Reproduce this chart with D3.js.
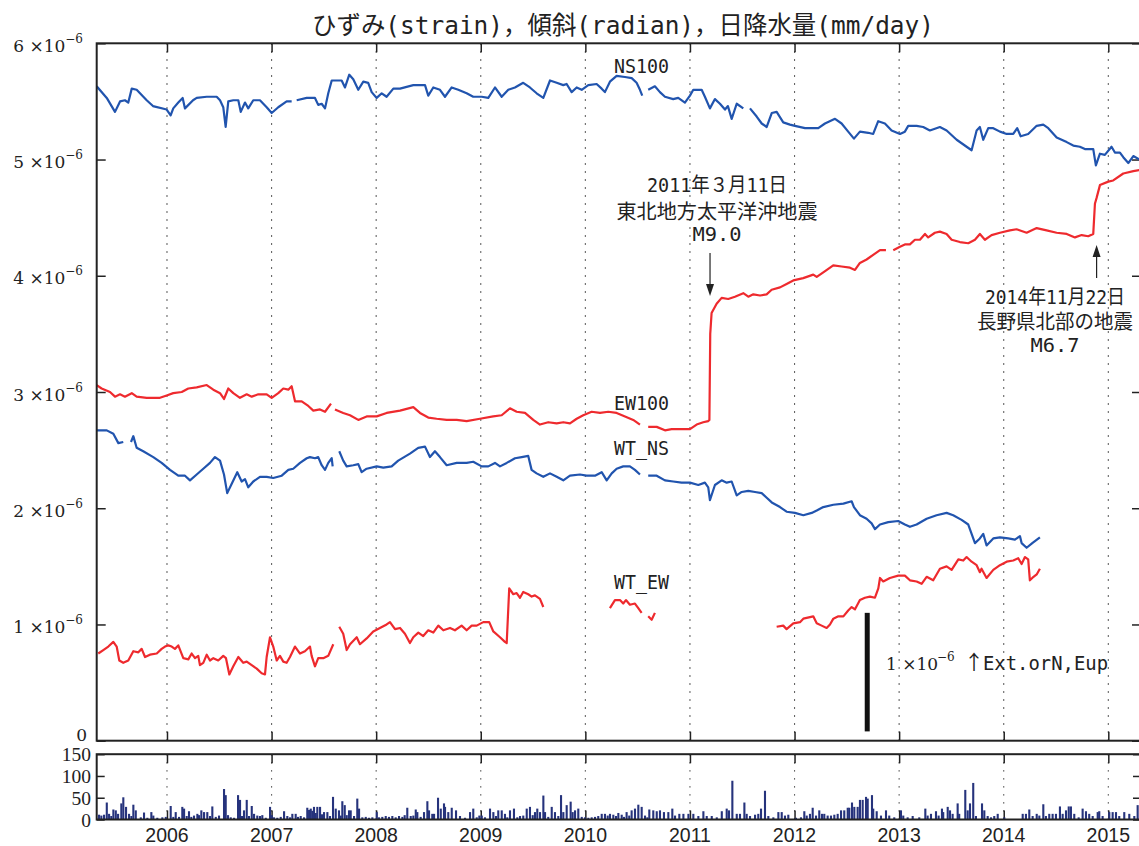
<!DOCTYPE html>
<html>
<head>
<meta charset="utf-8">
<script src="https://cdn.jsdelivr.net/npm/d3@7"></script>
<style>
  body { margin: 0; background: #fff; }
</style>
</head>
<body>
<div id="chart"></div>
<script>
// x ticks (years), y ticks (strain in 1e-6, rain in mm/day)
const years = [2006, 2007, 2008, 2009, 2010, 2011, 2012, 2013, 2014, 2015]
const strainTicks = [0, 1, 2, 3, 4, 5, 6]
const rainTicks = [0, 50, 100, 150]

// [decimal year, strain x1e-6], null = missing data
const ns100 = [[2005.328,5.63],[2005.424,5.53],[2005.503,5.41],[2005.551,5.50],[2005.598,5.51],[2005.630,5.49],[2005.663,5.61],[2005.710,5.60],[2005.806,5.51],[2005.866,5.46],[2005.997,5.43],[2006.035,5.38],[2006.060,5.44],[2006.108,5.49],[2006.150,5.53],[2006.172,5.44],[2006.249,5.51],[2006.284,5.53],[2006.380,5.54],[2006.475,5.54],[2006.507,5.51],[2006.538,5.45],[2006.561,5.28],[2006.586,5.50],[2006.634,5.51],[2006.682,5.51],[2006.705,5.41],[2006.746,5.49],[2006.777,5.44],[2006.825,5.51],[2006.889,5.51],[2006.953,5.45],[2007.001,5.40],[2007.064,5.45],[2007.144,5.50],[2007.192,5.50],[2007.216,null],[2007.240,5.51],[2007.336,5.53],[2007.415,5.53],[2007.446,5.47],[2007.479,5.48],[2007.511,5.44],[2007.542,5.57],[2007.575,5.68],[2007.622,5.68],[2007.670,5.68],[2007.702,5.62],[2007.743,5.73],[2007.781,5.69],[2007.829,5.60],[2007.877,5.67],[2007.924,5.66],[2007.957,5.58],[2008.005,5.53],[2008.053,5.57],[2008.100,5.54],[2008.164,5.61],[2008.228,5.61],[2008.355,5.64],[2008.400,5.64],[2008.467,5.64],[2008.498,5.55],[2008.546,5.62],[2008.610,5.60],[2008.658,5.54],[2008.722,5.62],[2008.785,5.60],[2008.865,5.57],[2008.928,5.54],[2009.009,5.54],[2009.072,5.53],[2009.136,5.62],[2009.200,5.54],[2009.263,5.60],[2009.327,5.62],[2009.406,5.66],[2009.470,5.62],[2009.534,5.57],[2009.598,5.53],[2009.662,5.68],[2009.726,5.66],[2009.789,5.64],[2009.821,5.65],[2009.869,5.58],[2009.917,5.62],[2009.965,5.60],[2010.028,5.64],[2010.108,5.65],[2010.156,5.61],[2010.187,5.58],[2010.235,5.67],[2010.299,5.72],[2010.379,5.71],[2010.443,5.70],[2010.490,5.66],[2010.522,5.60],[2010.544,5.55],[2010.570,null],[2010.601,5.60],[2010.665,5.63],[2010.713,5.58],[2010.761,5.54],[2010.840,5.52],[2010.888,5.53],[2010.952,5.49],[2011.000,5.55],[2011.032,5.60],[2011.112,5.60],[2011.143,5.54],[2011.191,5.44],[2011.239,5.52],[2011.287,5.48],[2011.335,5.43],[2011.363,5.46],[2011.399,5.35],[2011.447,5.48],[2011.510,5.44],[2011.540,null],[2011.574,5.44],[2011.638,5.37],[2011.686,5.31],[2011.734,5.28],[2011.782,5.40],[2011.829,5.41],[2011.892,5.32],[2011.956,5.30],[2012.004,5.29],[2012.100,5.27],[2012.163,5.27],[2012.227,5.27],[2012.291,5.31],[2012.387,5.35],[2012.450,5.31],[2012.513,5.24],[2012.568,5.18],[2012.625,5.24],[2012.705,5.23],[2012.752,5.22],[2012.800,5.33],[2012.864,5.31],[2012.928,5.25],[2013.008,5.22],[2013.055,5.24],[2013.087,5.29],[2013.167,5.29],[2013.230,5.28],[2013.294,5.25],[2013.390,5.28],[2013.454,5.25],[2013.550,5.17],[2013.645,5.11],[2013.693,5.08],[2013.741,5.25],[2013.772,5.28],[2013.804,5.17],[2013.852,5.27],[2013.900,5.27],[2013.964,5.24],[2014.028,5.22],[2014.091,5.22],[2014.129,5.27],[2014.162,5.20],[2014.234,5.22],[2014.315,5.29],[2014.378,5.30],[2014.426,5.27],[2014.506,5.19],[2014.602,5.15],[2014.665,5.12],[2014.728,5.11],[2014.776,5.09],[2014.856,5.09],[2014.881,4.95],[2014.920,5.05],[2014.967,5.04],[2015.031,5.11],[2015.063,5.06],[2015.111,5.06],[2015.143,5.02],[2015.191,4.97],[2015.239,5.03],[2015.300,5.00]]

const ew100 = [[2005.328,3.06],[2005.375,3.03],[2005.455,3.00],[2005.503,2.96],[2005.551,2.98],[2005.598,2.96],[2005.663,2.99],[2005.710,2.96],[2005.806,2.95],[2005.869,2.95],[2005.933,2.95],[2005.997,2.97],[2006.060,2.99],[2006.141,3.00],[2006.204,3.03],[2006.284,3.04],[2006.380,3.06],[2006.443,3.02],[2006.507,2.99],[2006.545,2.94],[2006.586,3.03],[2006.634,2.99],[2006.698,2.95],[2006.762,2.98],[2006.810,2.96],[2006.873,2.98],[2006.953,2.98],[2007.001,2.95],[2007.064,2.99],[2007.112,3.03],[2007.160,3.02],[2007.192,3.05],[2007.224,2.92],[2007.288,2.92],[2007.351,2.88],[2007.399,2.84],[2007.463,2.85],[2007.511,2.83],[2007.568,2.90],[2007.587,null],[2007.606,2.85],[2007.685,2.82],[2007.750,2.80],[2007.829,2.76],[2007.909,2.79],[2008.005,2.79],[2008.100,2.82],[2008.228,2.84],[2008.355,2.87],[2008.419,2.82],[2008.498,2.78],[2008.578,2.77],[2008.674,2.76],[2008.770,2.76],[2008.865,2.75],[2008.992,2.77],[2009.119,2.79],[2009.200,2.80],[2009.279,2.86],[2009.343,2.83],[2009.423,2.82],[2009.502,2.76],[2009.566,2.72],[2009.645,2.74],[2009.726,2.73],[2009.789,2.74],[2009.853,2.73],[2009.917,2.77],[2009.980,2.80],[2010.060,2.83],[2010.140,2.82],[2010.219,2.83],[2010.299,2.82],[2010.379,2.79],[2010.458,2.76],[2010.522,2.72],[2010.560,null],[2010.601,2.70],[2010.682,2.70],[2010.761,2.67],[2010.825,2.68],[2010.904,2.68],[2011.000,2.68],[2011.064,2.72],[2011.127,2.74],[2011.175,2.75],[2011.186,2.76],[2011.194,3.50],[2011.207,3.68],[2011.255,3.76],[2011.303,3.81],[2011.366,3.80],[2011.430,3.82],[2011.510,3.85],[2011.558,3.82],[2011.606,3.84],[2011.670,3.83],[2011.733,3.84],[2011.781,3.88],[2011.861,3.90],[2011.924,3.93],[2011.988,3.96],[2012.083,3.98],[2012.179,4.01],[2012.212,3.99],[2012.275,4.03],[2012.370,4.09],[2012.450,4.08],[2012.530,4.07],[2012.578,4.05],[2012.625,4.11],[2012.689,4.14],[2012.752,4.18],[2012.817,4.22],[2012.874,4.22],[2012.910,null],[2012.944,4.22],[2013.008,4.25],[2013.055,4.27],[2013.103,4.27],[2013.151,4.31],[2013.199,4.31],[2013.247,4.36],[2013.278,4.33],[2013.342,4.37],[2013.390,4.38],[2013.454,4.36],[2013.502,4.31],[2013.581,4.29],[2013.661,4.28],[2013.725,4.31],[2013.772,4.36],[2013.820,4.31],[2013.884,4.35],[2013.964,4.37],[2014.059,4.39],[2014.123,4.40],[2014.219,4.37],[2014.315,4.41],[2014.410,4.39],[2014.506,4.37],[2014.602,4.36],[2014.681,4.33],[2014.745,4.35],[2014.808,4.34],[2014.856,4.36],[2014.872,4.62],[2014.888,4.67],[2014.920,4.78],[2015.000,4.81],[2015.047,4.82],[2015.143,4.88],[2015.239,4.90],[2015.300,4.91]]

const wtNs = [[2005.328,2.67],[2005.424,2.67],[2005.487,2.64],[2005.535,2.56],[2005.582,2.57],[2005.620,null],[2005.656,2.57],[2005.678,2.62],[2005.710,2.52],[2005.773,2.49],[2005.869,2.44],[2005.949,2.39],[2006.029,2.33],[2006.108,2.28],[2006.172,2.28],[2006.220,2.24],[2006.284,2.29],[2006.347,2.34],[2006.411,2.39],[2006.459,2.44],[2006.507,2.41],[2006.545,2.29],[2006.576,2.13],[2006.619,2.21],[2006.672,2.31],[2006.714,2.23],[2006.746,2.25],[2006.777,2.18],[2006.825,2.23],[2006.889,2.27],[2006.953,2.27],[2007.016,2.26],[2007.097,2.28],[2007.160,2.33],[2007.207,2.34],[2007.272,2.39],[2007.336,2.43],[2007.367,2.44],[2007.415,2.43],[2007.446,2.44],[2007.479,2.37],[2007.511,2.33],[2007.542,2.39],[2007.575,2.43],[2007.584,2.36],[2007.610,null],[2007.647,2.49],[2007.685,2.41],[2007.718,2.36],[2007.781,2.37],[2007.829,2.38],[2007.861,2.31],[2007.909,2.34],[2008.005,2.36],[2008.068,2.35],[2008.148,2.36],[2008.211,2.41],[2008.323,2.47],[2008.402,2.52],[2008.467,2.53],[2008.514,2.44],[2008.562,2.49],[2008.610,2.44],[2008.674,2.37],[2008.770,2.39],[2008.865,2.39],[2008.928,2.40],[2009.009,2.36],[2009.072,2.36],[2009.136,2.39],[2009.184,2.36],[2009.248,2.39],[2009.327,2.43],[2009.391,2.44],[2009.454,2.45],[2009.486,2.33],[2009.534,2.30],[2009.598,2.27],[2009.662,2.30],[2009.726,2.27],[2009.789,2.24],[2009.853,2.28],[2009.948,2.29],[2010.012,2.28],[2010.092,2.28],[2010.156,2.31],[2010.204,2.24],[2010.252,2.30],[2010.299,2.34],[2010.362,2.36],[2010.426,2.36],[2010.474,2.33],[2010.522,2.29],[2010.560,null],[2010.601,2.28],[2010.682,2.28],[2010.761,2.24],[2010.840,2.23],[2010.920,2.22],[2011.000,2.22],[2011.080,2.20],[2011.143,2.22],[2011.175,2.18],[2011.191,2.07],[2011.239,2.20],[2011.303,2.24],[2011.351,2.22],[2011.399,2.23],[2011.447,2.11],[2011.495,2.14],[2011.558,2.15],[2011.622,2.14],[2011.686,2.13],[2011.734,2.09],[2011.782,2.05],[2011.861,2.01],[2011.924,1.97],[2012.004,1.96],[2012.084,1.94],[2012.164,1.96],[2012.212,1.98],[2012.275,2.01],[2012.371,2.03],[2012.467,2.04],[2012.546,2.06],[2012.568,2.01],[2012.625,1.94],[2012.689,1.91],[2012.737,1.87],[2012.769,1.82],[2012.817,1.86],[2012.896,1.88],[2012.991,1.89],[2013.055,1.86],[2013.103,1.84],[2013.167,1.86],[2013.263,1.91],[2013.358,1.94],[2013.454,1.96],[2013.517,1.94],[2013.597,1.90],[2013.661,1.86],[2013.693,1.78],[2013.725,1.70],[2013.772,1.74],[2013.804,1.78],[2013.836,1.68],[2013.900,1.74],[2013.964,1.75],[2014.043,1.74],[2014.107,1.73],[2014.155,1.76],[2014.171,1.70],[2014.219,1.66],[2014.273,1.70],[2014.346,1.75]]

const wtEw = [[2005.343,0.75],[2005.391,0.78],[2005.439,0.81],[2005.487,0.85],[2005.519,0.81],[2005.544,0.69],[2005.582,0.67],[2005.630,0.69],[2005.678,0.77],[2005.726,0.76],[2005.758,0.79],[2005.790,0.72],[2005.837,0.74],[2005.902,0.75],[2005.949,0.79],[2005.981,0.81],[2006.012,0.82],[2006.045,0.81],[2006.076,0.79],[2006.108,0.82],[2006.156,0.71],[2006.204,0.70],[2006.236,0.75],[2006.268,0.71],[2006.299,0.73],[2006.315,0.65],[2006.347,0.67],[2006.380,0.74],[2006.411,0.69],[2006.443,0.71],[2006.490,0.69],[2006.538,0.73],[2006.564,0.71],[2006.596,0.57],[2006.634,0.64],[2006.682,0.72],[2006.729,0.67],[2006.762,0.68],[2006.810,0.65],[2006.858,0.62],[2006.905,0.58],[2006.937,0.57],[2006.953,0.72],[2006.985,0.89],[2007.016,0.81],[2007.049,0.69],[2007.080,0.73],[2007.112,0.68],[2007.144,0.67],[2007.176,0.72],[2007.224,0.81],[2007.272,0.75],[2007.319,0.77],[2007.367,0.81],[2007.383,0.73],[2007.415,0.64],[2007.446,0.71],[2007.494,0.71],[2007.542,0.73],[2007.590,0.83],[2007.620,null],[2007.647,0.98],[2007.685,0.92],[2007.718,0.78],[2007.750,0.83],[2007.814,0.89],[2007.845,0.83],[2007.909,0.88],[2007.972,0.94],[2008.036,0.97],[2008.100,1.00],[2008.132,1.02],[2008.180,0.96],[2008.228,0.97],[2008.275,0.92],[2008.323,0.84],[2008.355,0.89],[2008.403,0.93],[2008.450,0.90],[2008.498,0.95],[2008.546,0.93],[2008.594,0.99],[2008.642,0.95],[2008.706,0.97],[2008.753,0.95],[2008.817,0.99],[2008.865,0.95],[2008.913,0.99],[2008.961,0.99],[2009.024,1.02],[2009.081,1.02],[2009.120,0.94],[2009.184,0.89],[2009.231,0.85],[2009.248,0.84],[2009.272,1.31],[2009.311,1.26],[2009.343,1.27],[2009.375,1.23],[2009.406,1.28],[2009.454,1.26],[2009.487,1.24],[2009.518,1.25],[2009.566,1.22],[2009.598,1.15],[2009.900,null],[2010.235,1.14],[2010.283,1.21],[2010.331,1.21],[2010.362,1.18],[2010.388,1.21],[2010.426,1.17],[2010.474,1.18],[2010.506,1.14],[2010.538,1.10],[2010.570,null],[2010.601,1.07],[2010.634,1.04],[2010.665,1.10],[2011.200,null],[2011.829,0.98],[2011.892,0.99],[2011.924,0.96],[2011.988,1.01],[2012.052,1.02],[2012.084,1.05],[2012.179,1.07],[2012.212,1.01],[2012.259,0.99],[2012.307,0.97],[2012.339,1.00],[2012.371,1.05],[2012.419,1.07],[2012.467,1.07],[2012.513,1.12],[2012.546,1.15],[2012.578,1.13],[2012.625,1.21],[2012.673,1.23],[2012.721,1.24],[2012.769,1.23],[2012.801,1.31],[2012.817,1.40],[2012.848,1.37],[2012.912,1.40],[2012.991,1.42],[2013.055,1.42],[2013.103,1.38],[2013.167,1.37],[2013.215,1.35],[2013.263,1.41],[2013.326,1.38],[2013.390,1.48],[2013.454,1.50],[2013.502,1.47],[2013.566,1.56],[2013.613,1.55],[2013.645,1.58],[2013.693,1.54],[2013.741,1.51],[2013.772,1.45],[2013.788,1.48],[2013.836,1.40],[2013.900,1.47],[2013.964,1.51],[2014.028,1.54],[2014.091,1.55],[2014.139,1.57],[2014.171,1.52],[2014.203,1.58],[2014.234,1.56],[2014.250,1.38],[2014.273,1.40],[2014.315,1.43],[2014.346,1.48]]

// [decimal year, daily precipitation mm]
const rain = [[2005.350,11],[2005.372,9],[2005.398,11],[2005.424,39],[2005.446,13],[2005.467,8],[2005.487,23],[2005.510,21],[2005.532,13],[2005.563,37],[2005.582,51],[2005.608,29],[2005.637,13],[2005.659,8],[2005.678,34],[2005.701,21],[2005.749,5],[2005.780,16],[2005.812,4],[2005.850,17],[2005.869,9],[2005.907,4],[2005.955,5],[2005.988,6],[2006.035,31],[2006.060,6],[2006.083,17],[2006.115,6],[2006.146,29],[2006.163,25],[2006.188,8],[2006.210,19],[2006.232,6],[2006.258,9],[2006.290,13],[2006.306,10],[2006.328,21],[2006.354,17],[2006.385,17],[2006.411,8],[2006.433,30],[2006.466,6],[2006.497,9],[2006.545,70],[2006.561,56],[2006.583,10],[2006.609,5],[2006.641,4],[2006.679,56],[2006.698,45],[2006.717,8],[2006.736,21],[2006.762,45],[2006.784,8],[2006.810,31],[2006.832,13],[2006.863,9],[2006.889,8],[2006.911,10],[2006.944,4],[2006.985,29],[2007.001,10],[2007.023,5],[2007.054,4],[2007.087,6],[2007.119,19],[2007.150,8],[2007.176,5],[2007.198,13],[2007.230,13],[2007.252,6],[2007.278,8],[2007.310,5],[2007.341,27],[2007.358,22],[2007.374,25],[2007.389,20],[2007.405,29],[2007.422,15],[2007.437,29],[2007.463,29],[2007.482,12],[2007.501,17],[2007.533,17],[2007.558,8],[2007.587,52],[2007.613,25],[2007.644,21],[2007.661,9],[2007.676,42],[2007.699,33],[2007.718,10],[2007.740,21],[2007.756,21],[2007.788,8],[2007.819,48],[2007.836,25],[2007.867,5],[2007.900,6],[2007.931,4],[2007.963,5],[2008.005,17],[2008.027,5],[2008.058,6],[2008.091,8],[2008.122,6],[2008.154,8],[2008.186,5],[2008.218,8],[2008.250,6],[2008.272,10],[2008.297,27],[2008.330,8],[2008.355,9],[2008.378,23],[2008.393,17],[2008.425,6],[2008.457,17],[2008.489,42],[2008.505,21],[2008.536,13],[2008.553,13],[2008.591,50],[2008.617,25],[2008.648,37],[2008.658,29],[2008.689,17],[2008.722,27],[2008.763,21],[2008.801,8],[2008.849,4],[2008.897,17],[2008.928,25],[2008.961,5],[2008.986,9],[2009.009,9],[2009.040,5],[2009.088,25],[2009.120,17],[2009.145,8],[2009.167,21],[2009.200,21],[2009.231,13],[2009.253,5],[2009.279,21],[2009.317,25],[2009.349,5],[2009.375,8],[2009.406,9],[2009.439,25],[2009.470,29],[2009.496,10],[2009.518,17],[2009.540,25],[2009.566,17],[2009.598,55],[2009.614,17],[2009.645,6],[2009.678,29],[2009.709,17],[2009.741,8],[2009.767,56],[2009.789,17],[2009.821,33],[2009.859,41],[2009.878,17],[2009.901,21],[2009.932,25],[2009.965,6],[2009.996,5],[2010.028,4],[2010.060,5],[2010.092,6],[2010.123,8],[2010.156,13],[2010.187,13],[2010.213,9],[2010.235,13],[2010.267,11],[2010.293,8],[2010.315,15],[2010.347,11],[2010.369,6],[2010.394,17],[2010.419,9],[2010.442,21],[2010.474,25],[2010.506,34],[2010.538,29],[2010.570,9],[2010.592,5],[2010.611,23],[2010.649,21],[2010.682,19],[2010.713,21],[2010.751,17],[2010.793,17],[2010.831,25],[2010.857,9],[2010.898,13],[2010.937,13],[2010.985,13],[2011.032,13],[2011.080,8],[2011.128,19],[2011.160,8],[2011.208,8],[2011.256,5],[2011.304,19],[2011.351,25],[2011.373,21],[2011.405,89],[2011.447,13],[2011.478,13],[2011.520,39],[2011.542,13],[2011.574,8],[2011.622,11],[2011.653,13],[2011.679,25],[2011.717,66],[2011.749,8],[2011.797,5],[2011.845,17],[2011.877,17],[2011.908,9],[2011.940,11],[2012.013,4],[2012.061,5],[2012.093,19],[2012.116,9],[2012.147,13],[2012.173,27],[2012.205,9],[2012.236,21],[2012.262,13],[2012.284,13],[2012.316,9],[2012.348,9],[2012.380,11],[2012.412,13],[2012.444,21],[2012.475,21],[2012.508,27],[2012.523,27],[2012.549,39],[2012.571,29],[2012.603,29],[2012.625,45],[2012.651,45],[2012.683,52],[2012.699,48],[2012.740,56],[2012.752,25],[2012.785,19],[2012.826,9],[2012.874,21],[2012.905,9],[2012.953,5],[2013.017,21],[2013.039,9],[2013.081,5],[2013.129,8],[2013.192,5],[2013.250,25],[2013.272,9],[2013.304,13],[2013.352,19],[2013.377,9],[2013.409,25],[2013.421,17],[2013.464,29],[2013.486,21],[2013.511,13],[2013.559,37],[2013.574,13],[2013.632,68],[2013.655,21],[2013.677,37],[2013.708,84],[2013.734,8],[2013.792,37],[2013.814,21],[2013.846,8],[2013.878,5],[2013.909,8],[2013.942,13],[2014.005,5],[2014.181,13],[2014.212,13],[2014.244,23],[2014.276,8],[2014.315,13],[2014.340,9],[2014.378,35],[2014.403,8],[2014.435,13],[2014.467,13],[2014.499,13],[2014.537,30],[2014.563,13],[2014.595,21],[2014.621,30],[2014.642,30],[2014.674,13],[2014.716,5],[2014.754,25],[2014.786,19],[2014.817,13],[2014.850,8],[2014.898,17],[2014.913,19],[2014.945,8],[2015.009,17],[2015.041,17],[2015.073,17],[2015.104,8],[2015.152,17],[2015.200,13],[2015.248,8],[2015.280,33]]

const seriesNames = ['NS100', 'EW100', 'WT_NS', 'WT_EW']
const quakes = [
  { t: 2011.192, lines: ['2011年３月11日', '東北地方太平洋沖地震', 'M9.0'] },
  { t: 2014.888, lines: ['2014年11月22日', '長野県北部の地震', 'M6.7'] }
]

const W = 1139, H = 846
const BLUE = '#2154ae', RED = '#ee2a2e', INK = '#222'
const JP = "'DejaVu Sans Mono', 'Noto Sans CJK JP', sans-serif"

const svg = d3.select('#chart').append('svg')
  .attr('width', W).attr('height', H)

const x = d3.scaleLinear().domain([2005.328, 2015.3125]).range([96.7, 1141])
const y = d3.scaleLinear().domain([0, 6]).range([740.7, 43.3])
const yr = d3.scaleLinear().domain([0, 150]).range([819.5, 754.2])

svg.append('clipPath').attr('id', 'main-area')
  .append('rect').attr('x', x.range()[0]).attr('y', y(6))
  .attr('width', x.range()[1] - x.range()[0]).attr('height', y(0) - y(6))

// dotted year grid in both panels
let grid = svg.append('g')
  .attr('stroke', '#333').attr('stroke-width', 1.1).attr('stroke-dasharray', '1.4,6.6')
years.forEach(yv => {
  grid.append('line').attr('x1', x(yv)).attr('x2', x(yv)).attr('y1', y(6)).attr('y2', y(0))
  grid.append('line').attr('x1', x(yv)).attr('x2', x(yv)).attr('y1', yr(150)).attr('y2', yr(0))
})

// inward ticks via d3 axes, domain path removed
function tickAxis(axis, tx, ty) {
  svg.append('g').attr('transform', `translate(${tx},${ty})`)
    .call(axis.tickFormat('').tickSizeOuter(0))
    .call(g => g.select('.domain').remove())
    .call(g => g.selectAll('.tick line').attr('stroke', INK).attr('stroke-width', 1.5))
}
tickAxis(d3.axisBottom(x).tickValues(years).tickSize(-9), 0, y(0))
tickAxis(d3.axisTop(x).tickValues(years).tickSize(-9), 0, y(6))
tickAxis(d3.axisBottom(x).tickValues(years).tickSize(-9), 0, yr(0))
tickAxis(d3.axisTop(x).tickValues(years).tickSize(-9), 0, yr(150))
tickAxis(d3.axisLeft(y).tickValues(strainTicks).tickSize(-9), x.range()[0], 0)
tickAxis(d3.axisRight(y).tickValues(strainTicks).tickSize(-9), x.range()[1], 0)
tickAxis(d3.axisLeft(yr).tickValues(rainTicks).tickSize(-8), x.range()[0], 0)
tickAxis(d3.axisRight(yr).tickValues(rainTicks).tickSize(-8), x.range()[1], 0)

// rain bars
svg.append('g').selectAll('rect').data(rain).enter().append('rect')
  .attr('x', d => x(d[0]) - 1)
  .attr('width', 2.1)
  .attr('y', d => yr(d[1]))
  .attr('height', d => yr(0) - yr(d[1]))
  .attr('fill', '#26337c')

// strain / tilt lines
let line = d3.line()
  .defined(d => d[1] != null)
  .x(d => x(d[0]))
  .y(d => y(d[1]))

let plot = svg.append('g').attr('clip-path', 'url(#main-area)')
;[[ns100, BLUE], [ew100, RED], [wtNs, BLUE], [wtEw, RED]].forEach(([data, color]) => {
  plot.append('path')
    .datum(data)
    .attr('d', line)
    .attr('fill', 'none')
    .attr('stroke', color)
    .attr('stroke-width', 2.2)
    .attr('stroke-linejoin', 'round')
})

// frames
svg.append('rect').attr('x', x.range()[0]).attr('y', y(6))
  .attr('width', x.range()[1] - x.range()[0]).attr('height', y(0) - y(6))
  .attr('fill', 'none').attr('stroke', INK).attr('stroke-width', 2)
svg.append('rect').attr('x', x.range()[0]).attr('y', yr(150))
  .attr('width', x.range()[1] - x.range()[0]).attr('height', yr(0) - yr(150))
  .attr('fill', 'none').attr('stroke', INK).attr('stroke-width', 2)

// y tick labels, main panel
strainTicks.forEach(v => {
  let t = svg.append('text')
    .attr('x', v === 0 ? 87 : 83).attr('y', y(v) + (v === 0 ? 0 : 8.5))
    .attr('text-anchor', 'end')
    .attr('font-family', "'DejaVu Serif', serif").attr('font-size', 17).attr('fill', INK)
  if (v === 0) t.text('0')
  else {
    t.append('tspan').text(v + ' ×10')
    t.append('tspan').attr('dy', -9).attr('font-size', 12).text('−6')
  }
})

// y tick labels, rain panel
rainTicks.forEach(v => {
  svg.append('text')
    .attr('x', 91).attr('y', yr(v) + 7)
    .attr('text-anchor', 'end')
    .attr('font-family', "'Liberation Serif', serif").attr('font-size', 19.5).attr('fill', INK)
    .text(v)
})

// year labels
years.forEach(yv => {
  svg.append('text')
    .attr('x', x(yv)).attr('y', 842)
    .attr('text-anchor', 'middle')
    .attr('font-family', "'Liberation Sans', Arial, sans-serif").attr('font-size', 19.5).attr('fill', INK)
    .text(yv)
})

// title
svg.append('text')
  .attr('x', 312).attr('y', 34)
  .attr('font-family', JP).attr('font-size', 25).attr('fill', INK)
  .attr('textLength', 622).attr('lengthAdjust', 'spacingAndGlyphs')
  .text('ひずみ(strain)，傾斜(radian)，日降水量(mm/day)')

// series labels
let labelPos = [[2010.273, 5.744], [2010.273, 2.845], [2010.273, 2.458], [2010.273, 1.305]]
seriesNames.forEach((name, i) => {
  svg.append('text')
    .attr('x', x(labelPos[i][0])).attr('y', y(labelPos[i][1]))
    .attr('font-family', JP).attr('font-size', 20).attr('fill', INK)
    .attr('textLength', 55).attr('lengthAdjust', 'spacingAndGlyphs')
    .text(name)
})

// earthquake annotations
function arrow(px, yTail, yHead) {
  let dir = yHead > yTail ? 1 : -1
  svg.append('line').attr('x1', px).attr('x2', px)
    .attr('y1', yTail).attr('y2', yHead - dir * 8)
    .attr('stroke', INK).attr('stroke-width', 1.2)
  svg.append('path')
    .attr('d', `M${px},${yHead} L${px - 4},${yHead - dir * 12} L${px + 4},${yHead - dir * 12} Z`)
    .attr('fill', INK)
}
function quakeText(cx, baselines, lines, widths) {
  lines.forEach((s, i) => {
    svg.append('text')
      .attr('x', cx).attr('y', baselines[i])
      .attr('text-anchor', 'middle')
      .attr('font-family', JP).attr('font-size', 20).attr('fill', INK)
      .attr('textLength', widths[i]).attr('lengthAdjust', 'spacingAndGlyphs')
      .text(s)
  })
}
arrow(x(quakes[0].t), 253, 296)
quakeText(717, [192, 219, 241], quakes[0].lines, [140, 201, 49])
arrow(x(quakes[1].t), 278, 245)
quakeText(1055, [304, 329, 352], quakes[1].lines, [140, 156, 49])

// 1e-6 scale bar
const barT = 2012.695
svg.append('line')
  .attr('x1', x(barT)).attr('x2', x(barT))
  .attr('y1', y(0.08)).attr('y2', y(1.10))
  .attr('stroke', '#111').attr('stroke-width', 5)
let sl = svg.append('text').attr('y', 670).attr('fill', INK)
sl.append('tspan').attr('x', 886).attr('font-family', "'DejaVu Serif', serif").attr('font-size', 17).text('1 ×10')
sl.append('tspan').attr('x', 937).attr('dy', -9).attr('font-family', "'DejaVu Serif', serif").attr('font-size', 12).text('−6')
sl.append('tspan').attr('x', 964).attr('dy', 9).attr('font-family', "'Noto Sans CJK JP', sans-serif").attr('font-size', 20).text('↑')
sl.append('tspan').attr('x', 983).attr('font-family', JP).attr('font-size', 20)
  .attr('textLength', 125).attr('lengthAdjust', 'spacingAndGlyphs')
  .text('Ext.orN,Eup')
</script>
</body>
</html>
